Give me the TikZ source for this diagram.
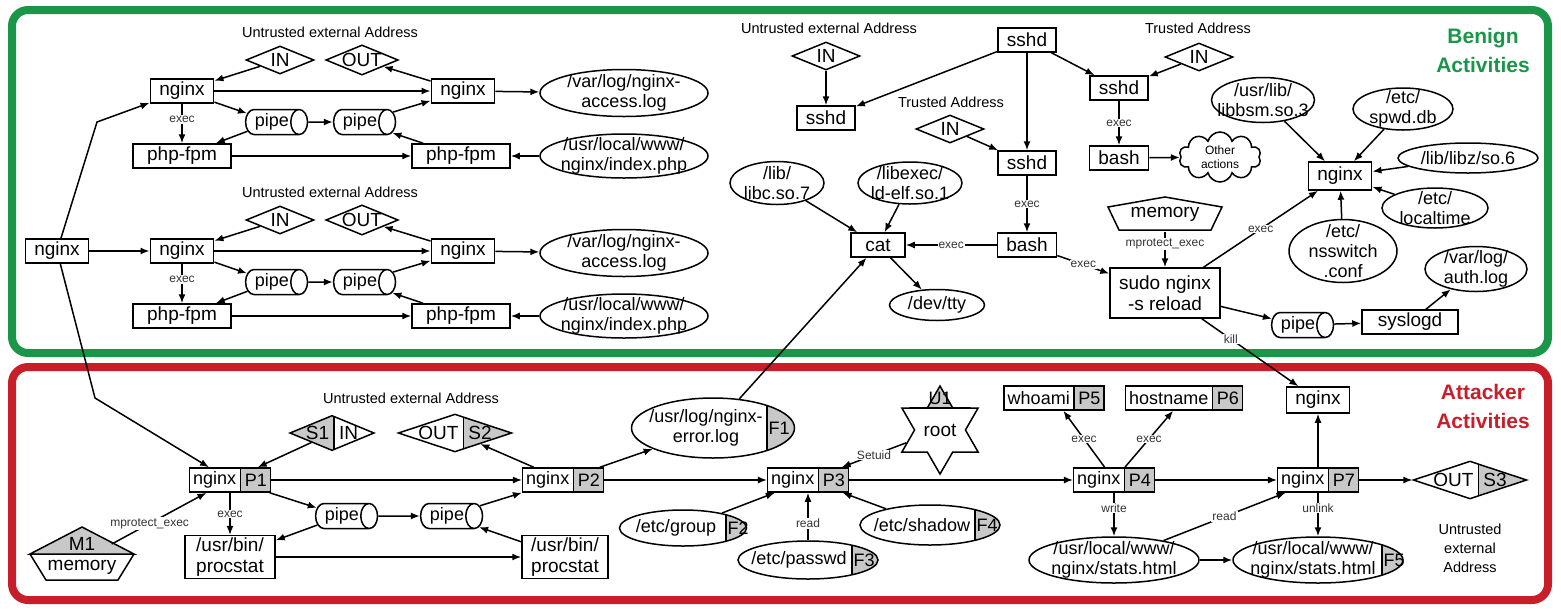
\documentclass[tikz,border=0pt]{standalone}
\usepackage{fontspec}
\setmainfont{Liberation Sans}
\usetikzlibrary{positioning, arrows.meta, calc, shapes.geometric, shapes.multipart, shapes.symbols}

\definecolor{benign}{RGB}{26,150,72}
\definecolor{attack}{RGB}{200,30,42}
\definecolor{tagfill}{RGB}{200,200,200}

\newcommand{\twol}[2]{\begin{tabular}{@{}c@{}}#1\\#2\end{tabular}}

\begin{document}
\begin{tikzpicture}[
  x=1pt, y=-1pt,
  line width=1.5pt,
  font=\fontsize{19}{21}\selectfont,
  proc/.style={rectangle, draw, fill=white, inner xsep=9pt, inner ysep=2pt, minimum width=54pt, minimum height=24pt},
  ptag/.style={rectangle split, rectangle split horizontal, rectangle split parts=2,
    rectangle split part fill={white,tagfill}, draw, inner xsep=3.5pt, inner ysep=2pt,
    minimum height=24pt, font=\fontsize{18}{20}\selectfont},
  tfile/.style={ellipse, draw, fill=white, inner sep=-14pt, font=\fontsize{18}{20}\selectfont},
  file/.style={tfile, align=center},
  sock/.style={diamond, draw, fill=white, aspect=2.4, inner sep=0pt, minimum width=68pt, minimum height=28pt},
  pipe/.style={cylinder, draw, fill=white, shape aspect=1, inner xsep=1pt, inner ysep=0pt, minimum width=25pt, minimum height=50pt,
    font=\fontsize{18}{20}\selectfont},
  lbl/.style={fill=white, inner sep=1pt, font=\fontsize{12}{12}\selectfont, text=black!80},
  addr/.style={font=\fontsize{14.5}{19}\selectfont, align=center},
  title/.style={font=\fontsize{21}{29}\selectfont\bfseries, align=center},
  arr/.style={-{Latex[length=9pt,width=7pt]}},
  lsplit/.style={path picture={
    \fill[tagfill] (path picture bounding box.south west) rectangle ([xshift=#1]path picture bounding box.north);
    \draw ([xshift=#1]path picture bounding box.north) -- ([xshift=#1]path picture bounding box.south);}},
  rsplit/.style={path picture={
    \fill[tagfill] ([xshift=#1]path picture bounding box.south) rectangle (path picture bounding box.north east);
    \draw ([xshift=#1]path picture bounding box.north) -- ([xshift=#1]path picture bounding box.south);}},
  ftag/.style 2 args={rsplit=#1, label={[xshift=#1+12pt, inner sep=0pt, font=\fontsize{18}{20}\selectfont]center:#2}}
]
\useasboundingbox (0,0) rectangle (1561,614);

% frames
\draw[benign, line width=8pt, rounded corners=16pt] (12,10) rectangle (1548,353);
\draw[attack, line width=8pt, rounded corners=16pt] (12,367) rectangle (1548,600);
\node[title, text=benign] (tb) at (1483,50) {Benign\\Activities};
\node[title, text=attack] (ta) at (1483,406) {Attacker\\Activities};

% benign nginx, first copy
\node[proc] (ng0) at (57,251) {nginx};
\node[addr] (uA) at (330,32) {Untrusted external Address};
\node[sock] (inA) at (280,60) {IN};
\node[sock] (outA) at (362,60) {OUT};
\node[proc] (ngA1) at (182,91) {nginx};
\node[proc] (ngA2) at (463,91) {nginx};
\node[file, minimum width=168pt, minimum height=47pt] (logA) at (624,93) {/var/log/nginx-\\access.log};
\node[pipe] (pA1) at (272,122) {pipe};
\node[pipe] (pA2) at (360,122) {pipe};
\node[proc, minimum width=98pt] (phA1) at (182,156) {php-fpm};
\node[proc, minimum width=98pt] (phA2) at (461,156) {php-fpm};
\node[file, minimum width=168pt, minimum height=44pt] (idxA) at (624,156) {/usr/local/www/\\nginx/index.php};

\draw[arr] (inA) -- (ngA1);
\draw[arr] (ngA2) -- (outA);
\draw[arr] (ngA1) -- (ngA2);
\draw[arr] (ngA2) -- (logA);
\draw[arr] (ngA1) -- (pA1);
\draw[arr] (pA1) -- (pA2);
\draw[arr] (pA2) -- (ngA2);
\draw[arr] (pA1) -- (phA1);
\draw[arr] (phA2) -- (pA2);
\draw[arr] (phA1) -- (phA2);
\draw[arr] (idxA) -- (phA2);
\draw[arr] (ngA1) -- node[lbl, pos=0.4] {exec} (phA1);

% benign nginx, second copy
\node[addr] (uB) at (330,192) {Untrusted external Address};
\node[sock] (inB) at (280,220) {IN};
\node[sock] (outB) at (362,220) {OUT};
\node[proc] (ngB1) at (182,251) {nginx};
\node[proc] (ngB2) at (463,251) {nginx};
\node[file, minimum width=168pt, minimum height=47pt] (logB) at (624,253) {/var/log/nginx-\\access.log};
\node[pipe] (pB1) at (272,282) {pipe};
\node[pipe] (pB2) at (360,282) {pipe};
\node[proc, minimum width=98pt] (phB1) at (182,316) {php-fpm};
\node[proc, minimum width=98pt] (phB2) at (461,316) {php-fpm};
\node[file, minimum width=168pt, minimum height=44pt] (idxB) at (624,316) {/usr/local/www/\\nginx/index.php};

\draw[arr] (inB) -- (ngB1);
\draw[arr] (ngB2) -- (outB);
\draw[arr] (ngB1) -- (ngB2);
\draw[arr] (ngB2) -- (logB);
\draw[arr] (ngB1) -- (pB1);
\draw[arr] (pB1) -- (pB2);
\draw[arr] (pB2) -- (ngB2);
\draw[arr] (pB1) -- (phB1);
\draw[arr] (phB2) -- (pB2);
\draw[arr] (phB1) -- (phB2);
\draw[arr] (idxB) -- (phB2);
\draw[arr] (ngB1) -- node[lbl, pos=0.4] {exec} (phB1);

\coordinate (kA) at (97,122);
\coordinate (kP) at (95,398);
\draw[arr] (ng0) -- (kA) -- (ngA1);
\draw[arr] (ng0) -- (ngB1);

% benign sshd
\node[addr] (uS) at (829,28) {Untrusted external Address};
\node[sock] (inS1) at (826,56) {IN};
\node[proc] (sh1) at (826,118) {sshd};
\node[proc] (sh0) at (1027,40) {sshd};
\node[addr] (tS2) at (1198,28) {Trusted Address};
\node[sock] (inS2) at (1199,57) {IN};
\node[proc] (sh2) at (1119,88) {sshd};
\node[addr] (tS3) at (951,102) {Trusted Address};
\node[sock] (inS3) at (950,129) {IN};
\node[proc] (sh3) at (1027,163) {sshd};
\node[proc] (bs1) at (1027,245) {bash};
\node[proc] (bs2) at (1119,158) {bash};
\node[cloud, cloud puffs=10, aspect=1.6, draw, fill=white, inner sep=0pt, minimum width=82pt, minimum height=50pt,
  align=center, font=\fontsize{12}{14}\selectfont] (oth) at (1220,157) {Other\\actions};
\node[proc] (cat) at (878,245) {cat};
\node[file, minimum width=94pt, minimum height=43pt] (libc) at (777,183) {/lib/\\libc.so.7};
\node[file, minimum width=104pt, minimum height=42pt] (ldelf) at (910,183) {/libexec/\\ld-elf.so.1};
\node[file, minimum width=95pt, minimum height=31pt] (tty) at (937,305) {/dev/tty};

\coordinate (mc) at (1165,214);
\draw ($(mc)+(0,-17)$) -- ($(mc)+(57,-7)$) -- ($(mc)+(46,16)$) -- ($(mc)+(-46,16)$) -- ($(mc)+(-57,-7)$) -- cycle;
\node[inner sep=0pt, minimum width=110pt, minimum height=34pt] (mem) at (mc) {memory};

\node[proc, align=center, minimum width=109pt, minimum height=50pt] (sudo) at (1165,293) {sudo nginx\\-s reload};
\node[pipe, minimum height=53pt] (pS) at (1298,325) {pipe};
\node[proc, minimum width=96pt] (slog) at (1410,322) {syslogd};
\node[file, minimum width=102pt, minimum height=45pt] (auth) at (1476,269) {/var/log/\\auth.log};
\node[proc, minimum height=28pt] (ngN) at (1340,176) {nginx};
\node[file, minimum width=103pt, minimum height=45pt] (bsm) at (1263,100) {/usr/lib/\\libbsm.so.3};
\node[file, minimum width=100pt, minimum height=42pt] (spwd) at (1403,109) {/etc/\\spwd.db};
\node[file, minimum width=140pt, minimum height=30pt] (libz) at (1468,158) {/lib/libz/so.6};
\node[file, minimum width=106pt, minimum height=40pt] (ltime) at (1435,208) {/etc/\\localtime};
\node[file, minimum width=108pt, minimum height=63pt] (nssw) at (1343,251) {/etc/\\nsswitch\\.conf};

\draw[arr] (sh0) -- (sh1);
\draw[arr] (inS1) -- (sh1);
\draw[arr] (sh0) -- (sh3);
\draw[arr] (sh0) -- (sh2);
\draw[arr] (inS2) -- (sh2);
\draw[arr] (inS3) -- (sh3);
\draw[arr] (sh3) -- node[lbl] {exec} (bs1);
\draw[arr] (sh2) -- node[lbl] {exec} (bs2);
\draw[arr] (bs2) -- (oth);
\draw[arr] (bs1) -- node[lbl] {exec} (cat);
\draw[arr] (bs1) -- node[lbl] {exec} (sudo);
\draw[arr] (libc) -- (cat);
\draw[arr] (ldelf) -- (cat);
\draw[arr] (cat) -- (tty);
\draw[arr] (mem) -- node[lbl, pos=0.35] {mprotect\_exec} (sudo);
\draw[arr] (sudo) -- node[lbl] {exec} (ngN);
\draw[arr] (bsm) -- (ngN);
\draw[arr] (spwd) -- (ngN);
\draw[arr] (libz) -- (ngN);
\draw[arr] (ltime) -- (ngN);
\draw[arr] (nssw) -- (ngN);
\draw[arr] (sudo) -- (pS);
\draw[arr] (pS) -- (slog);
\draw[arr] (slog) -- (auth);

% attacker
\node[addr] (uP) at (411,398) {Untrusted external Address};
\node[sock, lsplit=2pt] (sin1) at (332,433) {S1\hspace{10pt}IN};
\node[sock, aspect=3, rsplit=8.5pt] (sout2) at (455,433) {OUT\hspace{10pt}S2};
\node[ptag] (p1) at (230,480) {nginx\nodepart{two}P1};
\node[ptag] (p2) at (563,480) {nginx\nodepart{two}P2};
\node[tfile, ftag={54pt}{F1}, minimum width=163pt, minimum height=60pt] (f1) at (713,428) {\twol{/usr/log/nginx-}{error.log}\hspace{14pt}\null};
\node[pipe, minimum height=55pt] (pP1) at (342,516) {pipe};
\node[pipe, minimum height=55pt] (pP2) at (447,516) {pipe};
\node[proc, align=center, minimum width=90pt, minimum height=40pt] (pc1) at (230,557) {/usr/bin/\\procstat};
\node[proc, align=center, minimum width=86pt, minimum height=40pt] (pc2) at (565,557) {/usr/bin/\\procstat};

\coordinate (m1c) at (82,554);
\filldraw[fill=tagfill] ($(m1c)+(0,-27)$) -- ($(m1c)+(52,0)$) -- ($(m1c)+(-52,0)$) -- cycle;
\draw ($(m1c)+(52,0)$) -- ($(m1c)+(36,26)$) -- ($(m1c)+(-36,26)$) -- ($(m1c)+(-52,0)$);
\node[inner sep=0pt, minimum width=58pt] (m1t) at ($(m1c)+(0,-10)$) {M1};
\node[inner sep=0pt] (m1) at ($(m1c)+(0,13)$) {memory};

\node[ptag] (p3) at (808,480) {nginx\nodepart{two}P3};
\node[star, star points=6, star point ratio=1.73, draw, fill=white, inner sep=0pt, minimum size=88pt,
  path picture={\fill[tagfill] ([yshift=22pt]path picture bounding box.west) rectangle (path picture bounding box.north east);
    \draw ([yshift=22pt]path picture bounding box.west) -- ([yshift=22pt]path picture bounding box.east);},
  label={[anchor=center, yshift=-14pt, inner sep=0pt, font=\fontsize{18}{20}\selectfont]90:U1}] (root) at (940,430) {root};
\node[tfile, ftag={43pt}{F2}, minimum width=127pt, minimum height=36pt] (grp) at (683,528) {/etc/group\hspace{14pt}\null};
\node[tfile, ftag={44pt}{F3}, minimum width=140pt, minimum height=38pt] (pwd) at (808,560) {/etc/passwd\hspace{18pt}\null};
\node[tfile, ftag={45pt}{F4}, minimum width=140pt, minimum height=40pt] (shd) at (930,525) {/etc/shadow\hspace{16pt}\null};
\node[ptag] (p5) at (1054,398) {whoami\nodepart{two}P5};
\node[ptag] (p6) at (1184,398) {hostname\nodepart{two}P6};
\node[ptag] (p4) at (1114,480) {nginx\nodepart{two}P4};
\node[file, minimum width=170pt, minimum height=46pt] (st1) at (1114,560) {/usr/local/www/\\nginx/stats.html};
\node[tfile, ftag={64pt}{F5}, minimum width=170pt, minimum height=46pt] (st2) at (1318,560) {\twol{/usr/local/www/}{nginx/stats.html}\hspace{10pt}\null};
\node[ptag] (p7) at (1318,480) {nginx\nodepart{two}P7};
\node[proc, minimum height=26pt] (ngT) at (1318,400) {nginx};
\node[sock, aspect=3, rsplit=8.5pt] (sout3) at (1470,480) {OUT\hspace{10pt}S3};
\node[addr] (uT) at (1470,548) {Untrusted\\external\\Address};

\draw[arr] (ng0) -- (kP) -- (p1);
\draw[arr] (sin1) -- (p1);
\draw[arr] (p2) -- (sout2);
\draw[arr] (p1) -- (p2);
\draw[arr] (p1) -- (pP1);
\draw[arr] (pP1) -- (pP2);
\draw[arr] (pP2) -- (p2);
\draw[arr] (pP1) -- (pc1);
\draw[arr] (pc2) -- (pP2);
\draw[arr] (pc1) -- (pc2);
\draw[arr] (p1) -- node[lbl] {exec} (pc1);
\draw[arr] (m1t.east) -- node[lbl, pos=0.4] {mprotect\_exec} (p1);
\draw[arr] (p2) -- (f1);
\draw[arr] (f1) -- (cat);
\draw[arr] (p2) -- (p3);
\draw[arr] (root) -- node[lbl] {Setuid} (p3);
\draw[arr] (grp) -- (p3);
\draw[arr] (pwd) -- node[lbl, pos=0.35] {read} (p3);
\draw[arr] (shd) -- (p3);
\draw[arr] (p3) -- (p4);
\draw[arr] (p4) -- node[lbl] {exec} (p5);
\draw[arr] (p4) -- node[lbl] {exec} (p6);
\draw[arr] (p4) -- node[lbl, pos=0.35] {write} (st1);
\draw[arr] (st1) -- (st2);
\draw[arr] (st1) -- node[lbl] {read} (p7);
\draw[arr] (p4) -- (p7);
\draw[arr] (p7) -- (ngT);
\draw[arr] (p7) -- node[lbl, pos=0.35] {unlink} (st2);
\draw[arr] (p7) -- (sout3);
\draw[arr] (sudo) -- node[lbl, pos=0.3] {kill} (ngT);

\end{tikzpicture}
\end{document}
